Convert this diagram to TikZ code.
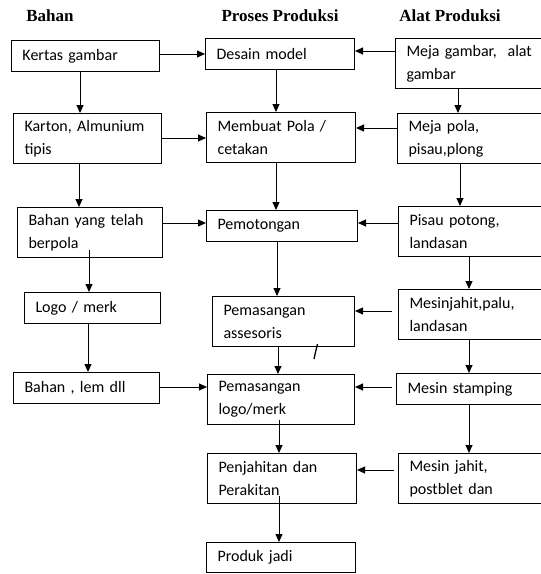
\documentclass[tikz,border=0pt]{standalone}
\usepackage{fontspec}
\setmainfont{Carlito}
\newfontfamily\headserif{Liberation Serif}
\usepackage{tikz}
\usetikzlibrary{arrows.meta, positioning}
\tikzset{
  box/.style={rectangle, draw=black, line width=1pt, anchor=north west, align=left,
              text width=#1, inner xsep=11pt, inner ysep=0pt, minimum height=31pt,
              font=\fontsize{16}{23}\selectfont},
  tall/.style={minimum height=50pt},
  head/.style={font=\headserif\fontsize{17}{18}\selectfont\bfseries},
  flow/.style={-{Triangle[length=8pt,width=7pt]}, draw=black, line width=0.9pt}
}
\begin{document}
\begin{tikzpicture}[x=1pt, y=-1pt]
  \useasboundingbox (0,0) rectangle (541,574);

  % column titles
  \node[head] (hbahan) at (50,16) {Bahan};
  \node[head] (hproses) at (280,16) {Proses Produksi};
  \node[head] (halat) at (450,16) {Alat Produksi};

  % Bahan
  \node[box=126pt] (kertas) at (11,40) {Kertas gambar};
  \node[box=126pt, tall] (karton) at (13,113) {Karton, Almunium\\tipis};
  \node[box=123pt, tall] (berpola) at (17,207) {Bahan yang telah\\berpola};
  \node[box=114pt] (logo) at (24,292) {Logo / merk};
  \node[box=124pt] (lem) at (13,372) {Bahan , lem dll};

  % Proses Produksi
  \node[box=127pt] (desain) at (205,38) {Desain model};
  \node[box=127pt, tall] (pola) at (206,112) {Membuat Pola /\\cetakan};
  \node[box=129pt] (potong) at (206,210) {Pemotongan};
  \node[box=120pt, tall] (asesoris) at (212,296) {Pemasangan\\assesoris};
  \node[box=125pt, tall] (pasanglogo) at (207,374) {Pemasangan\\logo/merk};
  \node[box=127pt, tall] (rakit) at (207,453) {Penjahitan dan\\Perakitan};
  \node[box=127pt, minimum height=30pt] (produk) at (206,542) {Produk jadi};

  % Alat Produksi
  \node[box=130pt, tall] (mejagbr) at (395,38) {Meja gambar,~ alat\\gambar};
  \node[box=130pt, tall] (mejapola) at (397,113) {Meja pola,\\pisau,plong};
  \node[box=130pt, tall] (pisau) at (398,206) {Pisau potong,\\landasan};
  \node[box=130pt, tall] (mjpalu) at (398,289) {Mesinjahit,palu,\\landasan};
  \node[box=130pt] (stamping) at (396,373) {Mesin stamping};
  \node[box=130pt, tall] (mjpost) at (398,453) {Mesin jahit,\\postblet dan};

  % bahan -> proses
  \draw[flow] (kertas.east |- 0,54) -- (desain.west |- 0,54);
  \draw[flow] (karton.east |- 0,138) -- (pola.west |- 0,138);
  \draw[flow] (berpola.east |- 0,223) -- (potong.west |- 0,223);
  \draw[flow] (lem.east |- 0,387) -- (pasanglogo.west |- 0,387);

  % alat -> proses
  \draw[flow] (mejagbr.west |- 0,51) -- (desain.east |- 0,51);
  \draw[flow] (mejapola.west |- 0,128) -- (pola.east |- 0,128);
  \draw[flow] (pisau.west |- 0,223) -- (potong.east |- 0,223);
  \draw[flow] ([xshift=-6pt]mjpalu.west |- 0,311) -- (asesoris.east |- 0,311);
  \draw[flow] ([xshift=-4pt]stamping.west |- 0,387) -- (pasanglogo.east |- 0,387);
  \draw[flow] ([xshift=-4pt]mjpost.west |- 0,470) -- (rakit.east |- 0,470);

  % downwards
  \draw[flow] (kertas.south -| 80,0) -- (karton.north -| 80,0);
  \draw[flow] (karton.south -| 79,0) -- (berpola.north -| 79,0);
  \draw[flow] (89,250) -- (logo.north -| 89,0);
  \draw[flow] (logo.south -| 88,0) -- (lem.north -| 88,0);

  \draw[flow] (desain.south -| 276,0) -- (pola.north -| 276,0);
  \draw[flow] (pola.south -| 276,0) -- (potong.north -| 276,0);
  \draw[flow] (potong.south -| 277,0) -- (asesoris.north -| 277,0);
  \draw[flow] (asesoris.south -| 278,0) -- (pasanglogo.north -| 278,0);
  \draw[flow] (279,420) -- (rakit.north -| 279,0);
  \draw[flow] (279,496) -- (produk.north -| 279,0);

  \draw[flow] (mejagbr.south -| 458,0) -- (mejapola.north -| 458,0);
  \draw[flow] (mejapola.south -| 460,0) -- (pisau.north -| 460,0);
  \draw[flow] (pisau.south -| 469,0) -- (mjpalu.north -| 469,0);
  \draw[flow] (mjpalu.south -| 469,0) -- (stamping.north -| 469,0);
  \draw[flow] (stamping.south -| 469,0) -- (mjpost.north -| 469,0);

  % stray tick
  \draw[line width=1.3pt] (317.5,344) .. controls (316,350) .. (314,359);
\end{tikzpicture}
\end{document}
